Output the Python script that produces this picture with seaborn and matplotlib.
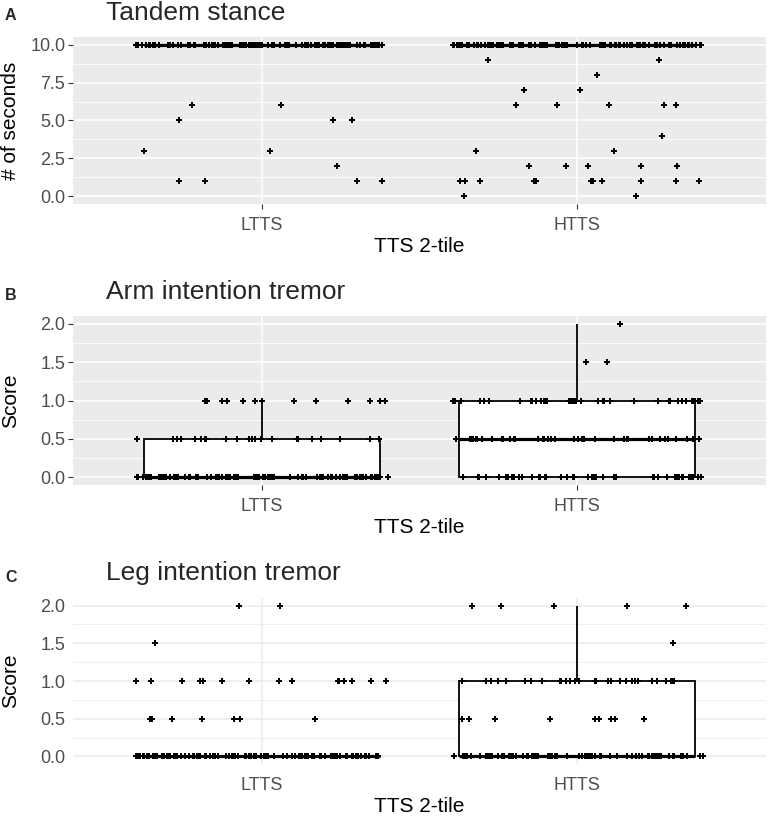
import numpy as np
import pandas as pd
import matplotlib
matplotlib.use("Agg")
import matplotlib.pyplot as plt
import seaborn as sns
from matplotlib.ticker import MultipleLocator

groups = ["LTTS", "HTTS"]

# Tandem stance, # of seconds: value levels and number of subjects per level
tandem_levels = [10, 9, 8, 7, 6, 5, 4, 3, 2, 1, 0]
tandem_ltts = [120, 0, 0, 0, 2, 3, 0, 2, 1, 4, 0]
tandem_htts = [101, 2, 1, 2, 5, 0, 1, 2, 5, 11, 2]

# Arm / leg intention tremor scores
score_levels = [0, 0.5, 1, 1.5, 2]
arm_ltts = [95, 22, 15, 0, 0]
arm_htts = [48, 42, 39, 2, 1]
leg_ltts = [107, 7, 15, 1, 2]
leg_htts = [87, 9, 30, 1, 5]

titles = ["Tandem stance", "Arm intention tremor", "Leg intention tremor"]
letters = ["A", "B", "C"]
ylabels = ["# of seconds", "Score", "Score"]


def make_df(levels, counts_ltts, counts_htts):
    vals = list(np.repeat(levels, counts_ltts)) + list(np.repeat(levels, counts_htts))
    grp = ["LTTS"] * sum(counts_ltts) + ["HTTS"] * sum(counts_htts)
    return pd.DataFrame({"group": grp, "value": vals})


data = [
    make_df(tandem_levels, tandem_ltts, tandem_htts),
    make_df(score_levels, arm_ltts, arm_htts),
    make_df(score_levels, leg_ltts, leg_htts),
]

sns.set_theme(style="white")
plt.rcParams["font.family"] = ["Liberation Sans", "DejaVu Sans"]
np.random.seed(7)

fig = plt.figure(figsize=(7.68, 8.19), dpi=100)
W, H = 768, 819
# panel boxes in pixels: (left, top, right, bottom)
panels = [(73, 37, 766, 204), (73, 316, 766, 485), (73, 598, 766, 764)]
title_y = [13, 292, 573]
letter_y = [16, 296, 578]

for i, df in enumerate(data):
    l, t, r, b = panels[i]
    ax = fig.add_axes([l / W, 1 - b / H, (r - l) / W, (b - t) / H])

    sns.boxplot(data=df, x="group", y="value", order=groups, ax=ax,
                width=0.75, color="white", linecolor="black", linewidth=1.3,
                showfliers=False, showcaps=False, saturation=1,
                medianprops={"linewidth": 2.3})
    sns.stripplot(data=df, x="group", y="value", order=groups, ax=ax,
                  jitter=0.4, color="black", marker="P", size=4.3,
                  linewidth=0, zorder=3)

    ax.set_xlim(-0.6, 1.6)
    if i == 0:
        ax.set_ylim(-0.5, 10.5)
        ax.yaxis.set_major_locator(MultipleLocator(2.5))
        ax.yaxis.set_minor_locator(MultipleLocator(1.25))
    else:
        ax.set_ylim(-0.1, 2.1)
        ax.yaxis.set_major_locator(MultipleLocator(0.5))
        ax.yaxis.set_minor_locator(MultipleLocator(0.25))
    ax.yaxis.set_major_formatter(lambda v, p: f"{v:.1f}")

    if i < 2:
        ax.set_facecolor("#EBEBEB")
        gcol = "white"
        tlen = 3.5
    else:
        ax.set_facecolor("white")
        gcol = "#EBEBEB"
        tlen = 0
    ax.set_axisbelow(True)
    ax.grid(True, which="major", axis="both", color=gcol, linewidth=1.1)
    ax.grid(True, which="minor", axis="y", color=gcol, linewidth=0.6)
    for s in ax.spines.values():
        s.set_visible(False)
    ax.tick_params(axis="both", which="major", length=tlen, width=0.8,
                   color="#333333", labelsize=13, labelcolor="#4D4D4D",
                   bottom=True, left=True)
    ax.tick_params(axis="x", which="major", pad=6 + 3.5 - tlen)
    ax.tick_params(axis="y", which="major", pad=2 + 3.5 - tlen)
    ax.tick_params(axis="y", which="minor", length=0)

    ax.set_xlabel("TTS 2-tile", fontsize=15, color="black", labelpad=2)
    ax.set_ylabel(ylabels[i], fontsize=15, color="black")
    ax.yaxis.set_label_coords(-0.077, 0.5)

    fig.text(106 / W, 1 - title_y[i] / H, titles[i], fontsize=19,
             ha="left", va="center")
    fig.text(5 / W, 1 - letter_y[i] / H, letters[i], fontsize=11.5,
             fontweight="bold", ha="left", va="center")

fig.savefig("out.png", dpi=100)
